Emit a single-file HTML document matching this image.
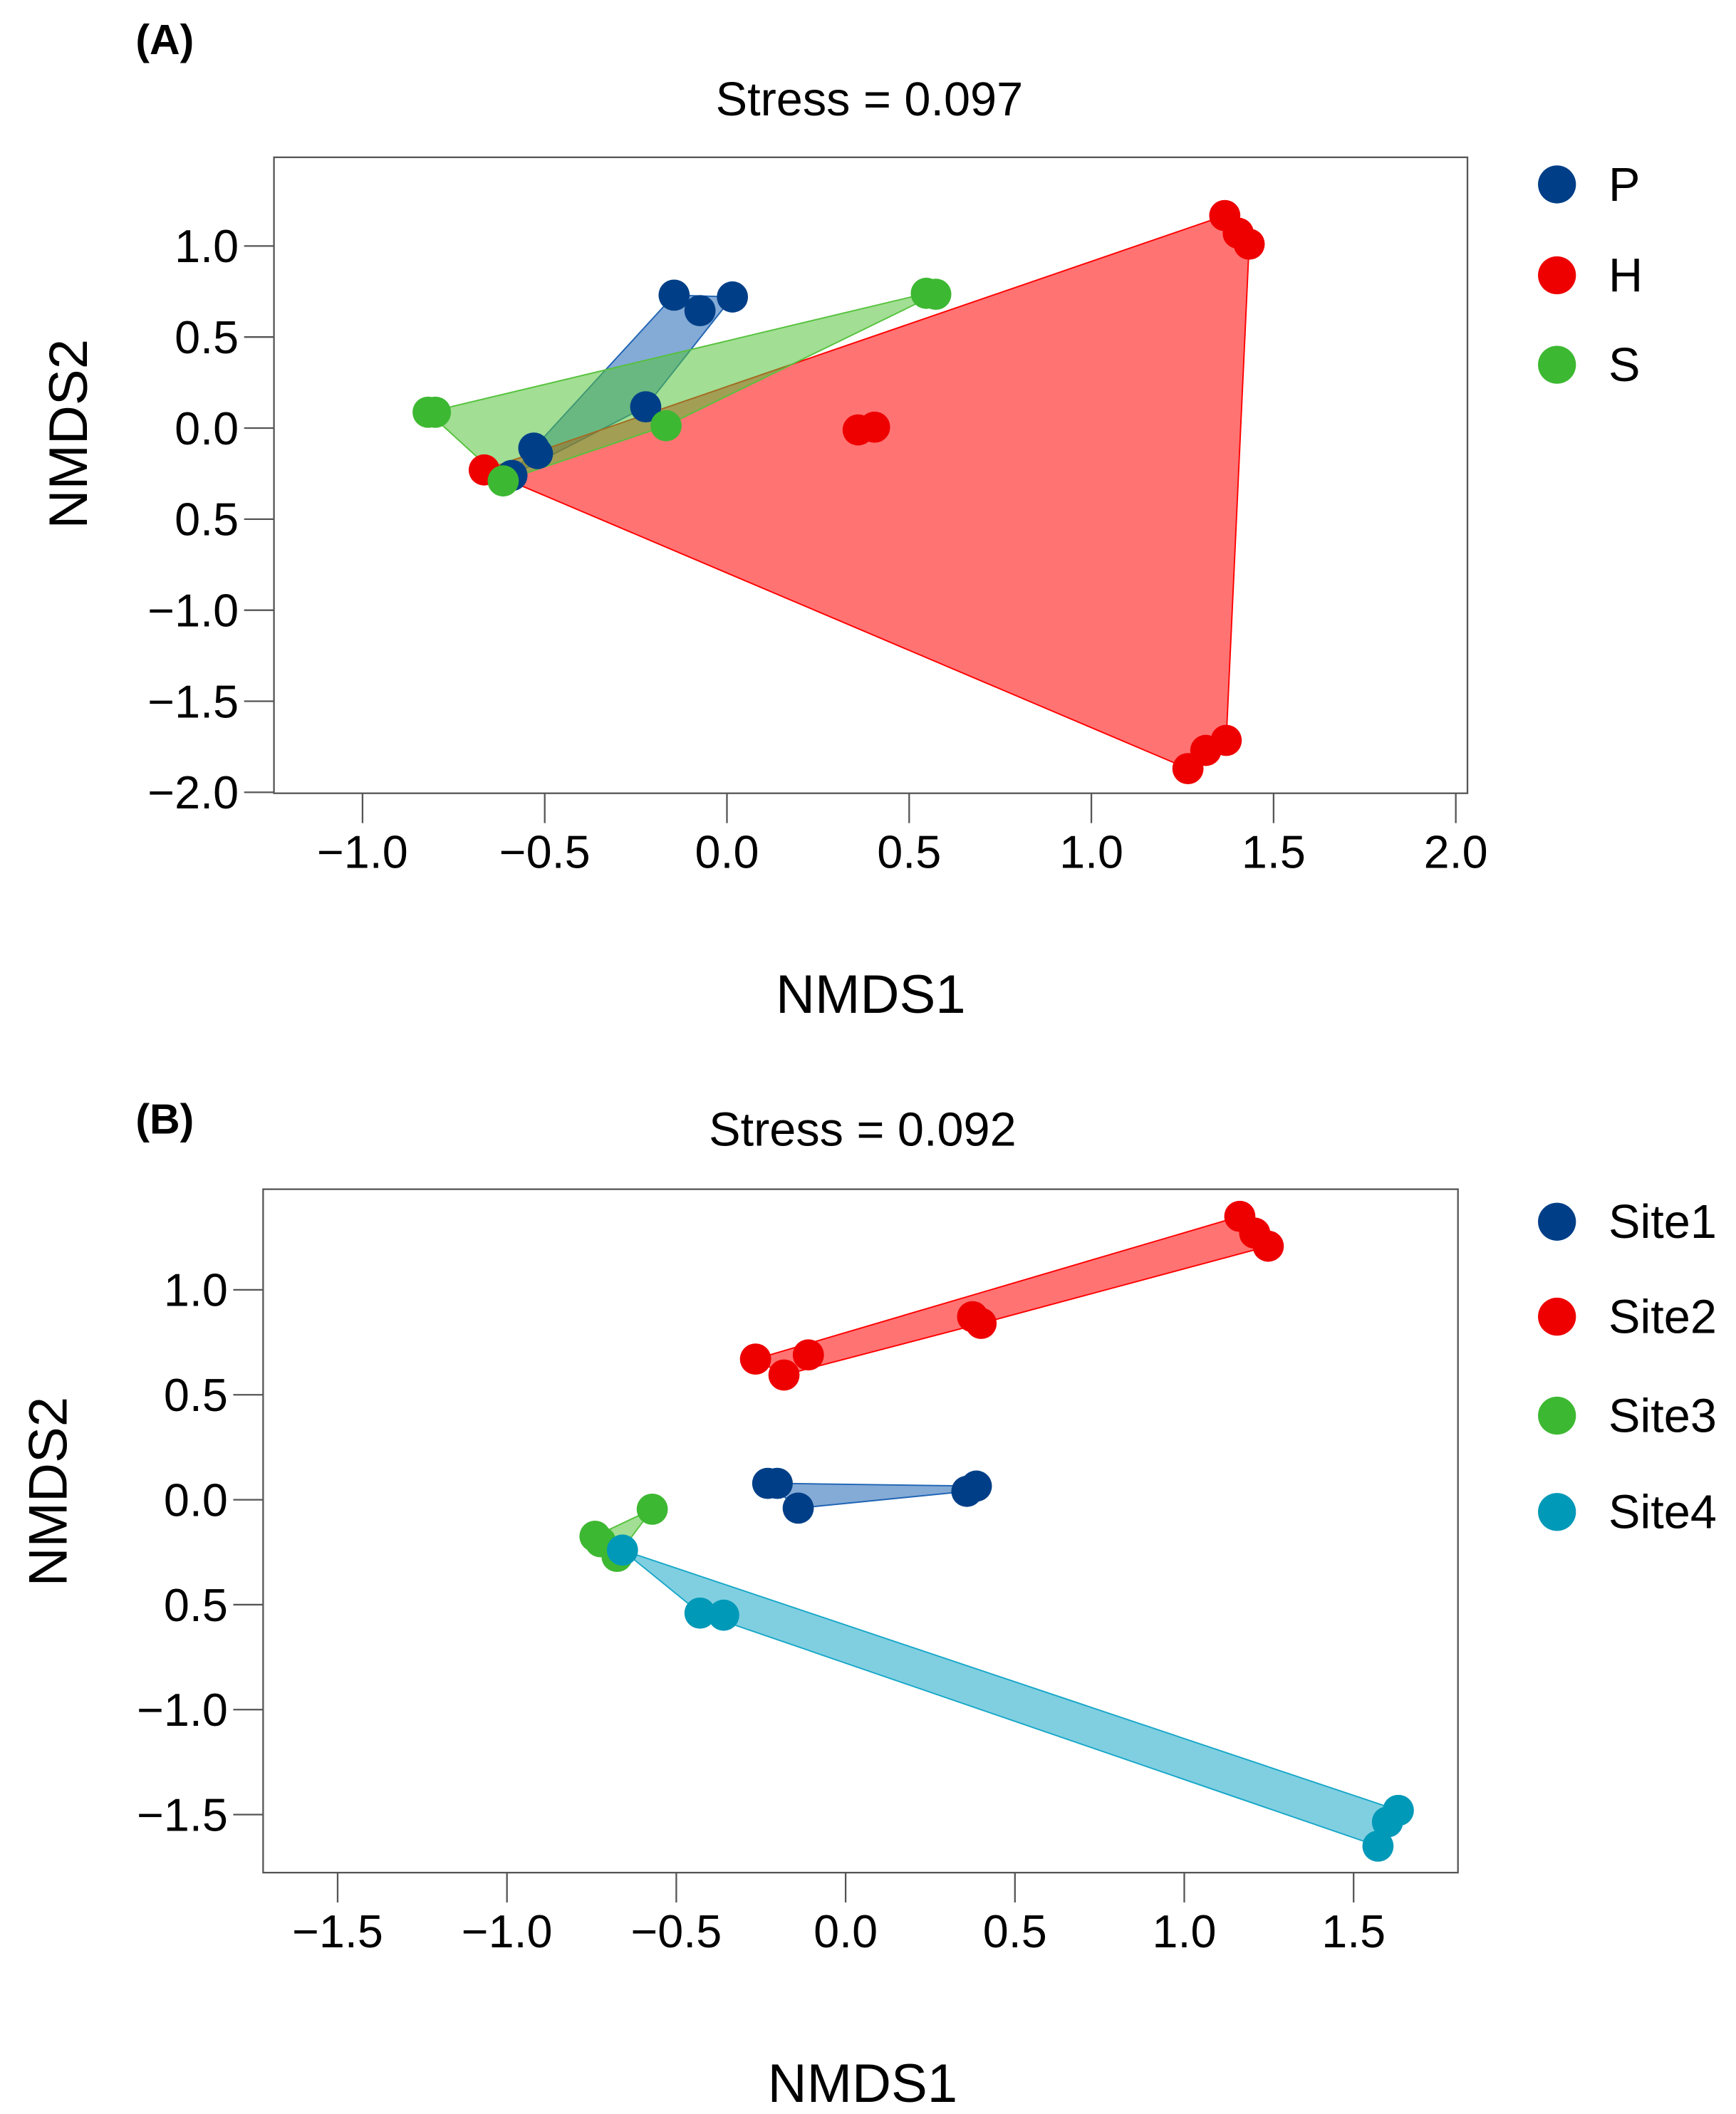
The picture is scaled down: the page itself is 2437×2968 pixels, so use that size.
<!DOCTYPE html>
<html><head><meta charset="utf-8"><style>
html,body{margin:0;padding:0;background:#fff;}
svg{display:block;font-family:"Liberation Sans",Arial,sans-serif;}
</style></head><body>
<svg id="fig" width="2437" height="2968" viewBox="0 0 1280 1559" preserveAspectRatio="none" xmlns="http://www.w3.org/2000/svg">
<rect width="1280" height="1559" fill="#fff"/>
</svg>
<script>
// Panel A data
const groupsA = ["P","H","S"];
const pX = [-0.145,-0.074,0.015,-0.223,-0.53,-0.52,-0.59];
const pY = [0.73,0.645,0.72,0.117,-0.11,-0.14,-0.26];
const hX = [1.366,1.403,1.433,0.36,0.405,-0.666,1.265,1.314,1.37];
const hY = [1.167,1.07,1.01,-0.01,0.005,-0.23,-1.87,-1.77,-1.715];
const sX = [-0.82,-0.80,0.547,0.573,-0.167,-0.614];
const sY = [0.087,0.087,0.74,0.735,0.013,-0.29];
const xTicksA = [-1.0,-0.5,0.0,0.5,1.0,1.5,2.0];
const yTicksA = [1.0,0.5,0.0,-0.5,-1.0,-1.5,-2.0];
const yTickLabelsA = ["1.0","0.5","0.0","0.5","\u22121.0","\u22121.5","\u22122.0"];
// Panel B data
const groupsB = ["Site1","Site2","Site3","Site4"];
const s1X = [-0.23,-0.202,-0.14,0.358,0.386];
const s1Y = [0.078,0.078,-0.04,0.04,0.065];
const s2X = [-0.266,-0.182,-0.11,0.375,0.40,1.164,1.208,1.248];
const s2Y = [0.67,0.594,0.69,0.872,0.84,1.35,1.27,1.208];
const s3X = [-0.571,-0.74,-0.724,-0.675];
const s3Y = [-0.045,-0.174,-0.2,-0.27];
const s4X = [-0.659,-0.43,-0.36,1.632,1.6,1.572];
const s4Y = [-0.24,-0.54,-0.55,-1.48,-1.535,-1.65];
const xTicksB = [-1.5,-1.0,-0.5,0.0,0.5,1.0,1.5];
const yTicksB = [1.0,0.5,0.0,-0.5,-1.0,-1.5];
const yTickLabelsB = ["1.0","0.5","0.0","0.5","\u22121.0","\u22121.5"];

const NS="http://www.w3.org/2000/svg";
const svg=document.getElementById('fig');
function mk(tag,attrs,parent){const e=document.createElementNS(NS,tag);for(const k in attrs)e.setAttribute(k,attrs[k]);(parent||svg).appendChild(e);return e;}
function fmt(v){return (v<0?"\u2212":"")+Math.abs(v).toFixed(1);}
function hull(pts){
  pts=pts.slice().sort((a,b)=>a[0]-b[0]||a[1]-b[1]);
  const cr=(o,a,b)=>(a[0]-o[0])*(b[1]-o[1])-(a[1]-o[1])*(b[0]-o[0]);
  const lo=[],up=[];
  for(const p of pts){while(lo.length>=2&&cr(lo[lo.length-2],lo[lo.length-1],p)<=0)lo.pop();lo.push(p);}
  for(const p of pts.slice().reverse()){while(up.length>=2&&cr(up[up.length-2],up[up.length-1],p)<=0)up.pop();up.push(p);}
  up.pop();lo.pop();return lo.concat(up);
}
function panel(cfg){
  const g=mk('g',{});
  
  
  const sx=v=>cfg.x0+v*cfg.kx, sy=v=>cfg.y0-v*cfg.ky;
  const lab=mk('text',{x:cfg.labX,y:cfg.labY,'font-size':31,'font-weight':'bold'},g);lab.textContent=cfg.label;
  
  
  const t=mk('text',{x:cfg.titleX,y:cfg.titleY,'font-size':35,'text-anchor':'middle'},g);t.textContent=cfg.title;
  
  
  const b=cfg.box;
  const fr=mk('rect',{x:b[0],y:b[1],width:b[2]-b[0],height:b[3]-b[1],fill:'none',stroke:'#555','stroke-width':1.2},g);
  
  
  cfg.xTicks.forEach(v=>{
    const x=sx(v);
    const l=mk('line',{x1:x,x2:x,y1:b[3],y2:b[3]+22,stroke:'#555','stroke-width':1.2},g);
    
    
    const tx=mk('text',{x:x,y:b[3]+55,'font-size':34,'text-anchor':'middle'},g);tx.textContent=fmt(v);
    
    
  });
  cfg.yTicks.forEach((v,i)=>{
    const y=sy(v);
    const l=mk('line',{x1:b[0]-22,x2:b[0],y1:y,y2:y,stroke:'#555','stroke-width':1.2},g);
    
    
    const tx=mk('text',{x:b[0]-26,y:y+12,'font-size':34,'text-anchor':'end'},g);tx.textContent=cfg.yLabels[i];
    
    
  });
  const xt=mk('text',{x:cfg.xtX,y:cfg.xtY,'font-size':40,'text-anchor':'middle'},g);xt.textContent='NMDS1';
  
  
  const yt=mk('text',{x:0,y:0,'font-size':40,'text-anchor':'middle',transform:`translate(${cfg.ytX},${cfg.ytY}) rotate(-90)`},g);yt.textContent='NMDS2';
  
  
  cfg.series.forEach(s=>{
    const pts=s.xs.map((x,i)=>[sx(x),sy(s.ys[i])]);
    const h=hull(pts);
    const poly=mk('polygon',{points:h.map(p=>p.join(',')).join(' '),fill:s.fill,'fill-opacity':0.55,stroke:s.fill,'stroke-width':1},g);
    
    
  });
  cfg.series.forEach(s=>{
    s.xs.forEach((x,i)=>{
      const c=mk('circle',{cx:sx(x),cy:sy(s.ys[i]),r:11.5,fill:s.color},g);
      
      
    });
  });
  cfg.series.forEach((s,i)=>{
    const y=cfg.legY[i];
    const c=mk('circle',{cx:1148,cy:y,r:14,fill:s.color},g);
    
    
    const tx=mk('text',{x:1186,y:y+12,'font-size':35},g);tx.textContent=s.name;
    
    
  });
}
const BLUE='#003f87',RED='#ee0000',GREEN='#3db832',TEAL='#0099b8';
panel({name:'panel-a',label:'(A)',labX:100,labY:40,title:'Stress = 0.097',titleX:641,titleY:85,
  box:[202,116,1082,585],x0:536,kx:268.7,y0:315.7,ky:134.3,
  xTicks:xTicksA,yTicks:yTicksA,yLabels:yTickLabelsA,xtX:642,xtY:747,ytX:64,ytY:320,legY:[136,203,269],
  series:[{name:groupsA[0],xs:pX,ys:pY,color:BLUE,fill:'#1f64b4'},
          {name:groupsA[1],xs:hX,ys:hY,color:RED,fill:'#ff0000'},
          {name:groupsA[2],xs:sX,ys:sY,color:GREEN,fill:'#55c23c'}]});
panel({name:'panel-b',label:'(B)',labX:100,labY:836,title:'Stress = 0.092',titleX:636,titleY:845,
  box:[194,877,1075,1381],x0:623.5,kx:249.7,y0:1106,ky:154.8,
  xTicks:xTicksB,yTicks:yTicksB,yLabels:yTickLabelsB,xtX:636,xtY:1550,ytX:49,ytY:1100,legY:[901,971,1044,1115],
  series:[{name:groupsB[0],xs:s1X,ys:s1Y,color:BLUE,fill:'#1f64b4'},
          {name:groupsB[1],xs:s2X,ys:s2Y,color:RED,fill:'#ff0000'},
          {name:groupsB[2],xs:s3X,ys:s3Y,color:GREEN,fill:'#55c23c'},
          {name:groupsB[3],xs:s4X,ys:s4Y,color:TEAL,fill:'#17a7c8'}]});
</script>
</body></html>
